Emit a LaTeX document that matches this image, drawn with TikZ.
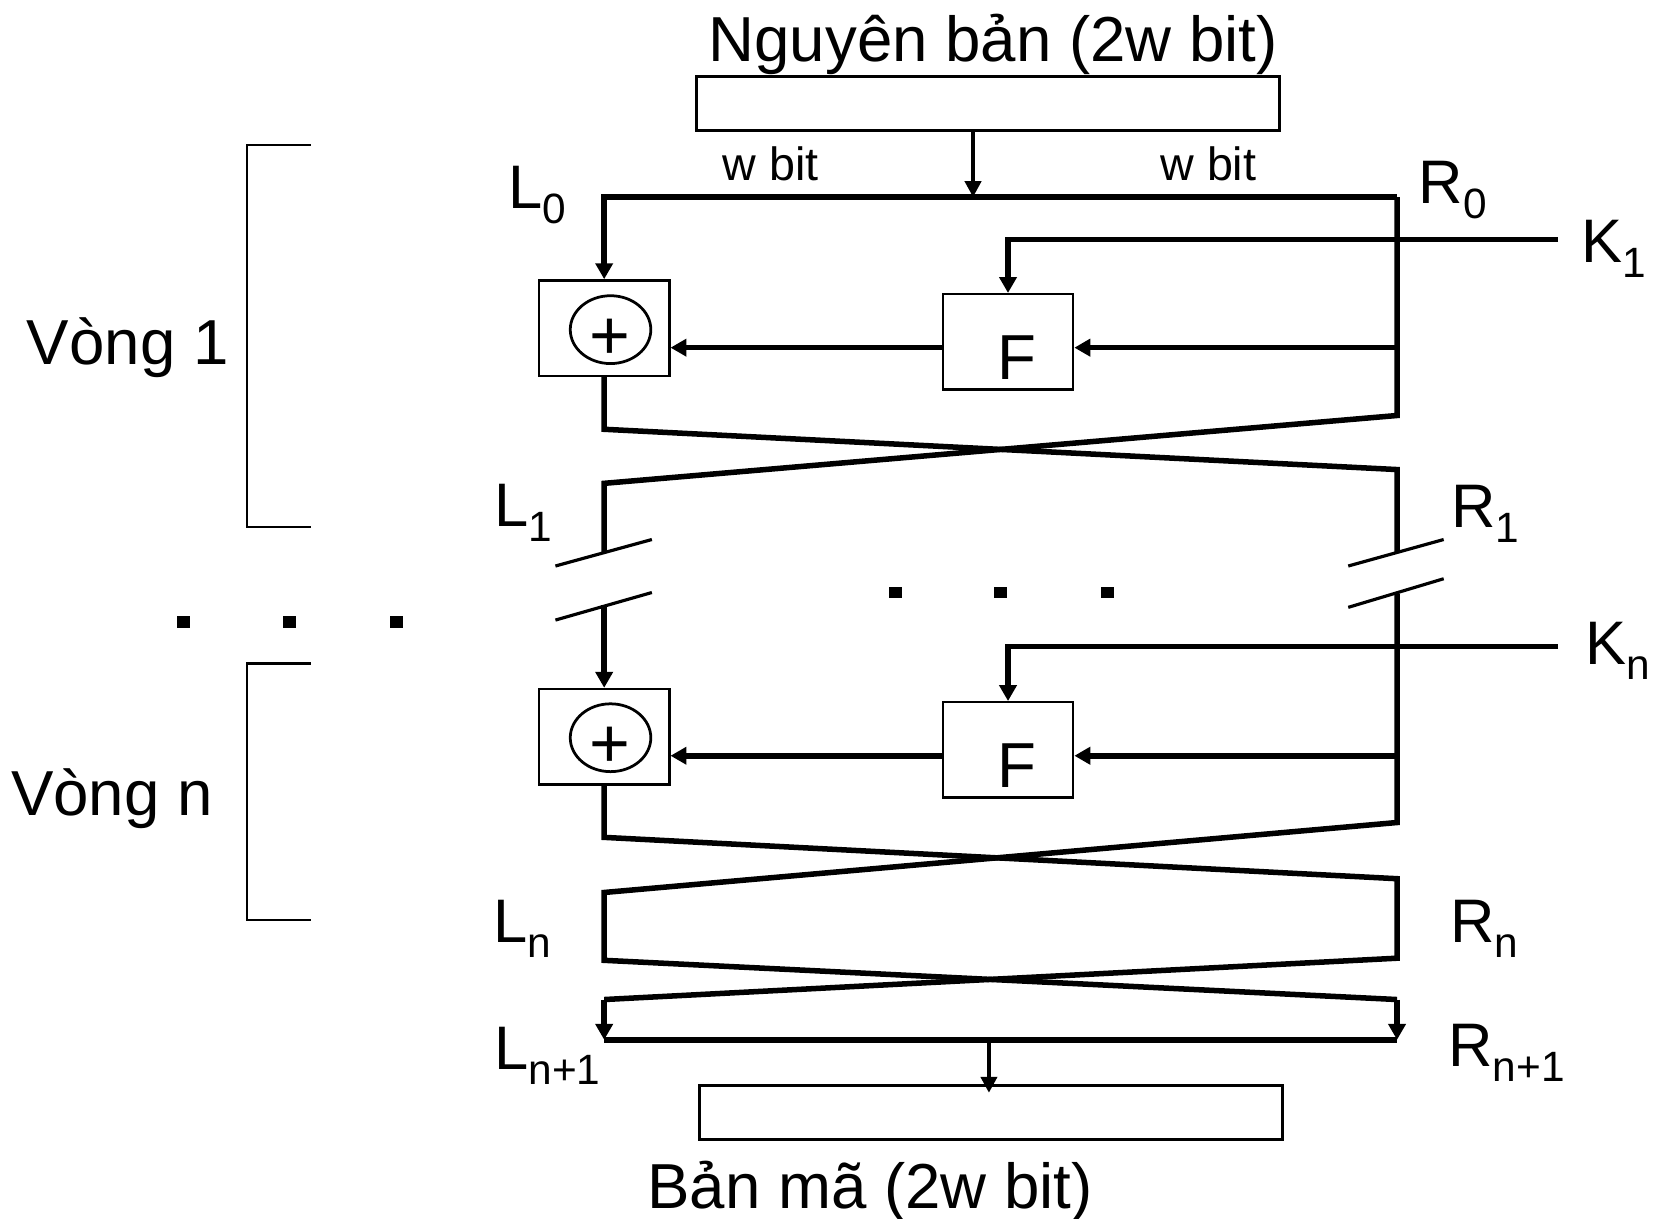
\documentclass[tikz,border=0pt]{standalone}
\usepackage{fontspec}
\setmainfont{Liberation Sans}
\usetikzlibrary{arrows.meta,shapes.geometric}
\newcommand\mylab[2]{{\fontsize{29}{29}\selectfont #1}\raisebox{-7pt}{\fontsize{20}{20}\selectfont #2}}
\begin{document}
\begin{tikzpicture}[x=0.5pt,y=-0.5pt,
  wire/.style={line width=2.6pt},
  arr/.style={line width=2.6pt,-{Triangle[length=7.5pt,width=8pt]}},
  thinarr/.style={line width=2pt,-{Triangle[length=7.5pt,width=7.5pt]}},
  box/.style={draw,line width=1.1pt,inner sep=0pt,minimum width=61.5pt,minimum height=45pt},
  longbox/.style={draw,line width=1.2pt,inner sep=0pt,minimum width=275pt,minimum height=25.5pt},
  xorc/.style={draw,ellipse,line width=1.3pt,inner sep=0pt,minimum width=38pt,minimum height=32pt},
  lab/.style={anchor=base west,inner sep=0pt},
  big/.style={inner sep=0pt,font=\fontsize{30}{30}\selectfont},
  wlab/.style={anchor=base,inner sep=0pt,font=\fontsize{22}{22}\selectfont},
  slash/.style={line width=1.5pt},
  brk/.style={line width=1.2pt},
  dotbox/.style={fill=black,inner sep=0pt,minimum width=6pt,minimum height=5.5pt}
]
\useasboundingbox (0,0) rectangle (1568,1150);

% title and top box
\node[big,anchor=base] (title) at (937,58) {Nguyên bản (2w bit)};
\node[longbox] (top) at (932,97.5) {};
\coordinate (tin) at (918,186);
\draw[thinarr] (top.south -| tin) -- (tin);
\node[wlab] (wb1) at (727,170) {w bit};
\node[wlab] (wb2) at (1140,170) {w bit};

% round 1 nodes
\node[box] (x1) at (570,309.5) {};
\node[xorc] (c1) at (576,311) {};
\node[anchor=base,inner sep=0pt,font=\fontsize{33}{33}\selectfont] (p1) at (575,339) {+};
\node[box] (f1) at (951,322.5) {};
\node[big,anchor=base] (F1) at (959,358) {F};

\coordinate (tl) at (570,186);
\coordinate (tr) at (1318,186);
\draw[arr] (tr) -- (tl) -- (x1.north);
\coordinate (k1e) at (1470,226);
\draw[arr] (k1e) -- (951,226) -- (f1.north);
\draw[arr] (1318,328) -- (f1.east |- 0,328);
\draw[arr] (f1.west |- 0,328) -- (x1.east |- 0,328);

% round 1 wires
\draw[wire] (tr) -- (1318,392) -- (570,456) -- (570,521);
\draw[wire] (x1.south) -- (570,405) -- (1318,443) -- (1318,521);

% labels round 1
\node[lab] (L0) at (479,197) {\mylab{L}{0}};
\node[lab] (R0) at (1338,192) {\mylab{R}{0}};
\node[lab] (K1) at (1492,248) {\mylab{K}{1}};
\node[lab] (L1) at (466,497) {\mylab{L}{1}};
\node[lab] (R1) at (1369,498) {\mylab{R}{1}};

% slashes
\draw[slash] (524,534) -- (615,509);
\draw[slash] (524,585) -- (615,559);
\draw[slash] (1272,534) -- (1362,509);
\draw[slash] (1272,573) -- (1362,546);

% dots
\foreach \px/\py in {173/587,273/587,374/587,845/559,944/559,1045/559}
  \node[dotbox] at (\px,\py) {};

% brackets and round labels
\draw[brk] (293,137) -- (233,137) -- (233,497) -- (293,497);
\draw[brk] (293,626) -- (233,626) -- (233,868) -- (293,868);
\node[big,anchor=base west] (v1) at (25,344) {Vòng 1};
\node[big,anchor=base west] (vn) at (10,769) {Vòng n};

% round n nodes
\node[box] (x2) at (570,695) {};
\node[xorc] (c2) at (576,696) {};
\node[anchor=base,inner sep=0pt,font=\fontsize{33}{33}\selectfont] (p2) at (575,724) {+};
\node[box] (f2) at (951,707.5) {};
\node[big,anchor=base] (F2) at (959,743) {F};

\draw[arr] (570,571) -- (x2.north);
\coordinate (kne) at (1470,610);
\draw[arr] (kne) -- (951,610) -- (f2.north);
\draw[arr] (1318,713) -- (f2.east |- 0,713);
\draw[arr] (f2.west |- 0,713) -- (x2.east |- 0,713);

\coordinate (bl) at (570,981);
\coordinate (br) at (1318,981);
\draw[wire] (1318,560) -- (1318,776) -- (570,842) -- (570,906) -- (1318,943);
\draw[arr] (1318,943) -- (br);
\draw[wire] (x2.south) -- (570,790) -- (1318,829) -- (1318,904) -- (570,943);
\draw[arr] (570,943) -- (bl);
\draw[wire] (bl) -- (br);

\node[lab] (Kn) at (1495,627) {\mylab{K}{n}};
\node[lab] (Ln) at (465,889) {\mylab{L}{n}};
\node[lab] (Rn) at (1368,889) {\mylab{R}{n}};
\node[lab] (Ln1) at (466,1009) {\mylab{L}{n+1}};
\node[lab] (Rn1) at (1366,1006) {\mylab{R}{n+1}};

% bottom
\node[longbox] (bot) at (935,1049.5) {};
\coordinate (bout) at (933,981);
\draw[thinarr] (bout) -- (933,1031);
\node[big,anchor=base] (ct) at (821,1140) {Bản mã (2w bit)};
\end{tikzpicture}
\end{document}
